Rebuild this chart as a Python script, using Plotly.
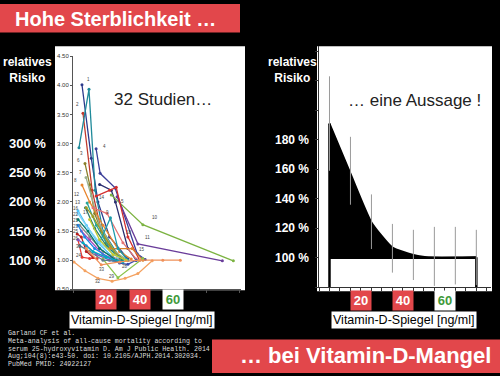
import plotly.graph_objects as go

W, H = 500, 376
def px(x): return x / W
def py(y): return 1 - y / H

# ---------------- data: left panel (32 studies, RR vs 25(OH)D ng/ml) -------------
study_names = ["1", "2", "3", "4", "5", "6", "7", "8", "9", "10", "11", "12", "13", "14",
               "15", "16", "17", "18", "19", "20", "21", "22", "23", "24", "25", "26",
               "27", "28", "29", "30", "31", "32", "33"]
study_colors = ["#2c3a8c", "#c0392b", "#1f8a9a", "#3b3f99", "#2a2f70", "#8a7f2a", "#9ab08f",
                "#e8862e", "#e57373", "#7cb342", "#6a3d9a", "#26a69a", "#2e7d6b", "#d32f2f",
                "#d9822b", "#4fc3f7", "#9e9d24", "#1b9aaa", "#8d8d8d", "#ab47bc", "#00796b",
                "#81d4fa", "#1e88e5", "#e53935", "#b71c1c", "#7e57c2", "#c0ca33", "#3949ab",
                "#8bc34a", "#607d8b", "#00acc1", "#f4a261", "#f0915a"]
study_x = [
    [5.4, 11, 15, 22, 33],
    [6, 11.5, 17, 27],
    [3.6, 9.6, 13.3, 18, 28],
    [13.9, 16.3, 25.3, 38.6, 43.4],
    [16, 23, 25.5, 33, 38],
    [7.2, 10, 13, 20, 30],
    [7.8, 11, 16, 25, 33],
    [5.4, 10, 18, 28, 35],
    [12, 20.5, 30, 38],
    [23, 42, 96.4],
    [26.5, 39, 89.8],
    [8.5, 14, 22, 30],
    [7.5, 13, 20, 29],
    [13.9, 22, 26, 33, 40],
    [22, 35.5, 42],
    [3, 8, 15, 24],
    [8, 12, 18, 26],
    [16, 22.5, 27, 33],
    [4, 10, 18, 28],
    [5, 10, 18, 28],
    [3, 9, 16, 26],
    [3, 9, 16, 27],
    [3, 7, 13, 24],
    [3, 5.5, 10, 14.5],
    [2.5, 5, 8, 12],
    [3, 8, 14, 22],
    [10, 16, 24, 32],
    [25, 28, 33, 38],
    [18, 27, 42],
    [4, 10, 18, 28],
    [6, 12, 20, 30],
    [0.6, 7.2, 15, 23.5, 31.3, 39, 47.6],
    [8, 17, 28, 40, 54, 64.5],
]
study_y = [
    [4.01, 2.75, 2.0, 1.4, 1.02],
    [3.52, 2.2, 1.5, 1.05],
    [2.93, 3.93, 2.2, 1.5, 1.05],
    [2.91, 2.49, 2.24, 1.11, 1.01],
    [2.3, 2.2, 2.0, 1.2, 1.0],
    [2.66, 2.3, 1.8, 1.3, 1.02],
    [2.42, 2.1, 1.6, 1.15, 1.0],
    [2.29, 2.0, 1.6, 1.15, 1.02],
    [1.9, 1.8, 1.3, 1.02],
    [2.12, 1.61, 0.99],
    [2.09, 1.28, 0.99],
    [1.98, 1.6, 1.2, 1.0],
    [1.9, 1.55, 1.25, 1.0],
    [2.1, 2.2, 2.25, 1.4, 1.0],
    [1.2, 1.2, 1.0],
    [1.85, 1.6, 1.3, 1.05],
    [1.9, 1.75, 1.45, 1.1],
    [1.3, 1.73, 1.2, 1.0],
    [1.6, 1.4, 1.15, 1.0],
    [1.5, 1.35, 1.1, 0.98],
    [1.7, 1.5, 1.2, 1.0],
    [1.8, 1.55, 1.3, 1.05],
    [1.6, 1.4, 1.2, 1.0],
    [1.35, 1.05, 1.03, 1.03],
    [1.45, 1.4, 1.15, 1.05],
    [1.35, 1.25, 1.1, 1.0],
    [1.7, 1.35, 1.1, 1.0],
    [1.0, 0.95, 0.93, 1.0],
    [1.02, 0.7, 1.03],
    [1.25, 1.15, 1.0, 0.98],
    [1.3, 1.15, 1.05, 0.97],
    [0.97, 0.82, 0.69, 0.64, 0.69, 0.77, 0.99],
    [1.2, 0.92, 0.97, 1.0, 1.0, 1.0],
]
label_text = ["1", "2", "3", "4", "6", "7", "8", "5", "9", "10", "11", "12", "13", "14", "15",
              "16", "17", "18", "21", "22", "23", "25", "26", "30", "24", "33", "32", "29", "28"]
label_x = [9.6, 3, 5.4, 18.7, 3.6, 4.8, 1.8, 29.5, 20.5, 49.4, 44.6, 2.4, 3, 17.5, 41.6,
           1.8, 7.8, 33.7, 1.8, 1.8, 1.8, 1.8, 1.8, 3.6, 3.6, 17.5, 15, 23.5, 31.3]
label_y = [4.1, 3.67, 2.83, 2.95, 2.71, 2.51, 2.36, 2.0, 1.82, 1.73, 1.39, 2.12, 1.99, 2.07, 1.18,
           1.89, 1.82, 1.48, 1.68, 1.78, 1.58, 1.49, 1.38, 1.23, 1.08, 0.84, 0.64, 0.72, 0.89]
left_ticks = [0.5, 1.0, 1.5, 2.0, 2.5, 3.0, 3.5, 4.0, 4.5]
left_pct_vals = [3.0, 2.5, 2.0, 1.5, 1.0]
left_pct_text = ["300 %", "250 %", "200 %", "150 %", "100 %"]

# ---------------- data: right panel (pooled curve) -------------
pooled_x = [5, 15, 25, 35, 45, 55, 65, 75]
pooled_rr = [191, 157, 124, 107, 102, 100, 100, 100.5]
err_plus = [32, 25, 19, 16, 17, 21, 21, 18.5]
err_minus = [32, 21, 18, 17, 17, 19, 18, 19]
right_ticks = [80, 100, 120, 140, 160, 180, 200, 220, 240]
right_pct_vals = [100, 120, 140, 160, 180]
right_pct_text = ["100 %", "120 %", "140 %", "160 %", "180 %"]
level_marks = ["20", "40", "60"]
level_vals = [20, 40, 60]

citation = ["Garland CF et al.",
            "Meta-analysis of all-cause mortality according to",
            "serum 25-hydroxyvitamin D. Am J Public Health. 2014",
            "Aug;104(8):e43-50. doi: 10.2105/AJPH.2014.302034.",
            "PubMed PMID: 24922127"]

RED = "#e2474b"
GREEN = "#3f9a3a"
FONT = "Liberation Sans"

fig = go.Figure()

# left panel traces
for name, col, xs, ys in zip(study_names, study_colors, study_x, study_y):
    fig.add_trace(go.Scatter(x=xs, y=ys, mode="lines+markers", name=name,
                             line=dict(color=col, width=1.3),
                             marker=dict(color=col, size=3),
                             xaxis="x", yaxis="y", showlegend=False, hoverinfo="skip"))

# right panel: 100% baseline
fig.add_trace(go.Scatter(x=[pooled_x[0], pooled_x[-1]], y=[100, 100], mode="lines",
                         line=dict(color="black", width=2.5), xaxis="x2", yaxis="y2",
                         showlegend=False, hoverinfo="skip"))
# curve filled down to baseline
fig.add_trace(go.Scatter(x=pooled_x, y=pooled_rr, mode="lines",
                         line=dict(color="black", width=2, shape="spline", smoothing=0.5),
                         fill="tonexty", fillcolor="black", xaxis="x2", yaxis="y2",
                         showlegend=False, hoverinfo="skip"))
# vertical edges
fig.add_trace(go.Scatter(x=[pooled_x[0], pooled_x[0]], y=[80, pooled_rr[0]], mode="lines",
                         line=dict(color="black", width=2.5), xaxis="x2", yaxis="y2",
                         showlegend=False, hoverinfo="skip"))
fig.add_trace(go.Scatter(x=[pooled_x[-1], pooled_x[-1]], y=[80, pooled_rr[-1]], mode="lines",
                         line=dict(color="black", width=2.5), xaxis="x2", yaxis="y2",
                         showlegend=False, hoverinfo="skip"))
# error bars
fig.add_trace(go.Scatter(x=pooled_x, y=pooled_rr, mode="markers",
                         marker=dict(size=1, color="rgba(0,0,0,0)"),
                         error_y=dict(type="data", array=err_plus, arrayminus=err_minus,
                                      color="#9a9a9a", thickness=1, width=0),
                         xaxis="x2", yaxis="y2", showlegend=False, hoverinfo="skip"))

shapes = [
    dict(type="rect", xref="paper", yref="paper", x0=px(55), x1=px(245), y0=py(292), y1=py(44),
         fillcolor="white", line=dict(width=0), layer="below"),
    dict(type="rect", xref="paper", yref="paper", x0=px(317), x1=px(492), y0=py(293), y1=py(44),
         fillcolor="white", line=dict(width=0), layer="below"),
    dict(type="rect", xref="paper", yref="paper", x0=px(0), x1=px(240), y0=py(30), y1=py(1),
         fillcolor=RED, line=dict(width=0), layer="below"),
    dict(type="rect", xref="paper", yref="paper", x0=px(212), x1=px(500), y0=py(376), y1=py(342),
         fillcolor=RED, line=dict(width=0), layer="below"),
]

ann = []
def A(**kw):
    ann.append(dict(showarrow=False, **kw))

A(text="<b>Hohe Sterblichkeit …</b>", xref="paper", yref="paper", x=px(13), y=py(16),
  xanchor="left", yanchor="middle", font=dict(family=FONT, size=20, color="white"))
A(text="<b>… bei Vitamin-D-Mangel</b>", xref="paper", yref="paper", x=px(493), y=py(358),
  xanchor="right", yanchor="middle", font=dict(family=FONT, size=22, color="white"))

for xc in (27, 292):
    A(text="<b>relatives<br>Risiko</b>", xref="paper", yref="paper",
      x=px(xc), y=py(68), xanchor="center", yanchor="middle",
      align="center", font=dict(family=FONT, size=12, color="white"))

for v, t in zip(left_pct_vals, left_pct_text):
    A(text="<b>" + t + "</b>", xref="paper", yref="y", x=px(48), y=v, xanchor="right",
      yanchor="middle", font=dict(family=FONT, size=13, color="white"))
for v, t in zip(right_pct_vals, right_pct_text):
    A(text="<b>" + t + "</b>", xref="paper", yref="y2", x=px(311), y=v, xanchor="right",
      yanchor="middle", font=dict(family=FONT, size=12, color="white"))

A(text="32 Studien…", xref="paper", yref="paper", x=px(163), y=py(98), xanchor="center",
  yanchor="middle", font=dict(family=FONT, size=17, color="#222222"))
A(text="… eine Aussage !", xref="paper", yref="paper", x=px(414), y=py(99), xanchor="center",
  yanchor="middle", font=dict(family=FONT, size=17, color="#222222"))

for t, lx, ly in zip(label_text, label_x, label_y):
    A(text=t, xref="x", yref="y", x=lx, y=ly, xanchor="center", yanchor="middle",
      font=dict(family=FONT, size=4.5, color="#444444"))

for axx, ypix in (("x", 301), ("x2", 302)):
    for t, v in zip(level_marks, level_vals):
        is60 = t == "60"
        A(text="<b>" + t + "</b>", xref=axx, yref="paper", x=v, y=py(ypix), xanchor="center",
          yanchor="middle", width=18, height=17,
          bgcolor="white" if is60 else RED,
          font=dict(family=FONT, size=13, color=GREEN if is60 else "white"))

for xc in (142, 404):
    A(text="Vitamin-D-Spiegel [ng/ml]", xref="paper", yref="paper", x=px(xc), y=py(322),
      xanchor="center", yanchor="middle", bgcolor="white", borderpad=1,
      font=dict(family=FONT, size=12.5, color="black"))

for i, line in enumerate(citation):
    A(text=line, xref="paper", yref="paper", x=px(6), y=py(336 + i * 7.9), xanchor="left",
      yanchor="middle", font=dict(family="Liberation Mono", size=6.6, color="#dddddd"))

fig.update_layout(
    width=W, height=H, margin=dict(l=0, r=0, t=0, b=0),
    paper_bgcolor="black", plot_bgcolor="rgba(0,0,0,0)",
    shapes=shapes, annotations=ann, showlegend=False,
    xaxis=dict(domain=[px(73), px(241)], range=[0, 101], showgrid=False, zeroline=False,
               showline=True, linecolor="#555555", linewidth=1, ticks="outside", ticklen=3,
               tickcolor="#555555", tickvals=[0, 20, 40, 60, 80, 100], showticklabels=False,
               anchor="y"),
    yaxis=dict(domain=[py(291), py(54)], range=[0.5, 4.5], showgrid=False, zeroline=False,
               showline=True, linecolor="#555555", linewidth=1, ticks="outside", ticklen=2,
               tickcolor="#555555", tickvals=left_ticks,
               ticktext=["%.2f" % v for v in left_ticks],
               tickfont=dict(family=FONT, size=6, color="#333333"), anchor="x"),
    xaxis2=dict(domain=[px(319), px(491)], range=[0, 82], showgrid=False, zeroline=False,
                showline=True, linecolor="#333333", linewidth=1, ticks="outside", ticklen=3,
                tickcolor="#333333", dtick=5, tick0=0, showticklabels=False, anchor="y2"),
    yaxis2=dict(domain=[py(289), py(44)], range=[80, 243.33], showgrid=False, zeroline=False,
                showline=True, linecolor="#333333", linewidth=1, ticks="outside", ticklen=3,
                tickcolor="#333333", tickvals=right_ticks, showticklabels=False, anchor="x2"),
)

fig.write_html("out.html", config={"displayModeBar": False},
               post_script="document.body.style.margin='0';document.body.style.padding='0';"
                           "document.body.style.background='black';")
